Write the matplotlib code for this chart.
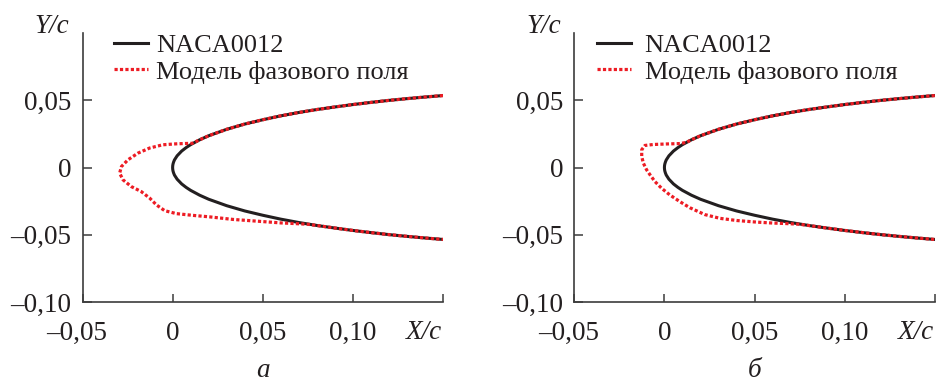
import matplotlib
matplotlib.use('Agg')
import matplotlib.pyplot as plt
from matplotlib.transforms import ScaledTranslation

# ---------------- data ----------------
# NACA0012 half-thickness (upper surface; lower surface is the mirror image)
naca_x = [0.0, 0.00005, 0.0002, 0.0005, 0.001, 0.0025, 0.005, 0.0075, 0.01, 0.015,
          0.02, 0.03, 0.04, 0.05, 0.06, 0.07, 0.08, 0.09, 0.10, 0.11, 0.12,
          0.13, 0.14, 0.15]
naca_y = [0.0, 0.0013, 0.0025, 0.0039, 0.0056, 0.0087, 0.0122, 0.0148, 0.0170, 0.0206,
          0.0236, 0.0284, 0.0323, 0.0355, 0.0384, 0.0409, 0.0431, 0.0450, 0.0468, 0.0484,
          0.0499, 0.0512, 0.0524, 0.0535]

# Phase-field model contour, panel "a"
pf_a_x = [0.15, 0.14, 0.13, 0.12, 0.11, 0.10, 0.09, 0.08, 0.07, 0.06, 0.05, 0.04,
          0.03, 0.02, 0.015, 0.011, 0.0060, 0.0021, -0.0054, -0.0127, -0.0192,
          -0.0248, -0.0284, -0.0294, -0.0275, -0.0229, -0.0174, -0.0127, -0.0090,
          -0.0044, 0.0021, 0.0113, 0.0205, 0.0334, 0.0519, 0.0600, 0.0680, 0.075,
          0.08, 0.09, 0.10, 0.11, 0.12, 0.13, 0.14, 0.15]
pf_a_y = [0.0535, 0.0524, 0.0512, 0.0499, 0.0484, 0.0468, 0.0450, 0.0431, 0.0409,
          0.0384, 0.0355, 0.0323, 0.0284, 0.0236, 0.0206, 0.0180, 0.0178, 0.0176,
          0.0169, 0.0145, 0.0107, 0.0057, 0.0007, -0.0042, -0.0092, -0.0142,
          -0.0179, -0.0228, -0.0278, -0.0321, -0.0343, -0.0356, -0.0367, -0.0386,
          -0.0404, -0.0412, -0.0417, -0.0422, -0.0431, -0.0450, -0.0468, -0.0484,
          -0.0499, -0.0512, -0.0524, -0.0535]

# Phase-field model contour, panel "б"
pf_b_x = [0.15, 0.14, 0.13, 0.12, 0.11, 0.10, 0.09, 0.08, 0.07, 0.06, 0.05, 0.04,
          0.03, 0.02, 0.015, 0.012, 0.0086, 0.0012, -0.0062, -0.0108, -0.0126,
          -0.0126, -0.0117, -0.0099, -0.0080, -0.0053, -0.0016, 0.0030, 0.0086,
          0.0141, 0.0224, 0.0308, 0.0400, 0.0511, 0.0600, 0.0680, 0.075, 0.08,
          0.09, 0.10, 0.11, 0.12, 0.13, 0.14, 0.15]
pf_b_y = [0.0535, 0.0524, 0.0512, 0.0499, 0.0484, 0.0468, 0.0450, 0.0431, 0.0409,
          0.0384, 0.0355, 0.0323, 0.0284, 0.0236, 0.0206, 0.0186, 0.0178, 0.0175,
          0.0171, 0.0164, 0.0132, 0.0082, 0.0033, -0.0017, -0.0054, -0.0104,
          -0.0154, -0.0204, -0.0254, -0.0299, -0.0350, -0.0378, -0.0394, -0.0406,
          -0.0413, -0.0417, -0.0422, -0.0431, -0.0450, -0.0468, -0.0484, -0.0499,
          -0.0512, -0.0524, -0.0535]

x_ticks = [-0.05, 0.0, 0.05, 0.10, 0.15]
x_tick_labels = ['–0,05', '0', '0,05', '0,10', '']
y_ticks = [-0.10, -0.05, 0.0, 0.05]
y_tick_labels = ['–0,10', '–0,05', '0', '0,05']
series_labels = ['NACA0012', 'Модель фазового поля']
panel_labels = ['a', 'б']

# ---------------- style ----------------
plt.rcParams['font.family'] = ['Liberation Serif', 'DejaVu Serif']
plt.rcParams['font.size'] = 19
TXT = '#231f20'
SPN = '#3c3c3c'
RED = '#ed1c24'

fig = plt.figure(figsize=(9.38, 3.83), dpi=100)
ax_a = fig.add_axes([82.5 / 938, 81 / 383, 360.5 / 938, 269 / 383])
ax_b = fig.add_axes([574.3 / 938, 81 / 383, 360.5 / 938, 269 / 383])

black_x = naca_x[::-1] + naca_x[1:]
black_y = naca_y[::-1] + [-v for v in naca_y[1:]]

panels = [(ax_a, pf_a_x, pf_a_y, 0.087, 0.30),
          (ax_b, pf_b_x, pf_b_y, 0.062, 0.52)]

for i, (ax, px, py, lx, tpad) in enumerate(panels):
    ax.plot(black_x, black_y, color=TXT, lw=2.2, label=series_labels[0])
    ax.plot(px, py, color=RED, lw=2.3, linestyle=(0, (1, 0.7)),
            label=series_labels[1])
    ax.set_xlim(-0.05, 0.15)
    ax.set_ylim(-0.10, 0.10)
    for s in ['top', 'right']:
        ax.spines[s].set_visible(False)
    for s in ['left', 'bottom']:
        ax.spines[s].set_color(SPN)
        ax.spines[s].set_linewidth(1.2)
    ax.set_xticks(x_ticks)
    ax.set_xticklabels(x_tick_labels)
    ax.set_yticks(y_ticks)
    ax.set_yticklabels(y_tick_labels)
    ax.tick_params(axis='x', direction='in', length=6, width=1.1, color=SPN,
                   pad=13.5, labelcolor=TXT, labelsize=19.5)
    ax.tick_params(axis='y', direction='in', length=6.5, width=1.1, color=SPN,
                   pad=8, labelcolor=TXT, labelsize=19.5)
    lbl = ax.get_xticklabels()[0]
    lbl.set_transform(lbl.get_transform() +
                      ScaledTranslation(-6 / 100, 0, fig.dpi_scale_trans))

    leg = ax.legend(loc='upper left', bbox_to_anchor=(lx, 0.998), frameon=False,
                    borderpad=0, borderaxespad=0, handlelength=1.3,
                    handletextpad=tpad, labelspacing=0.12, fontsize=19)
    for t in leg.get_texts():
        t.set_color(TXT)

    ax.text(-0.086, 1.0, 'Y/c', transform=ax.transAxes, ha='center',
            va='baseline', style='italic', color=TXT, fontsize=19.5)
    ax.text(0.997, -0.1375, 'X/c', transform=ax.transAxes, ha='right',
            va='baseline', style='italic', color=TXT, fontsize=19.5)
    ax.text(0.5, -0.30, panel_labels[i], transform=ax.transAxes, ha='center',
            va='bottom', style='italic', color=TXT, fontsize=19.5)

fig.savefig('out.png', dpi=100)
